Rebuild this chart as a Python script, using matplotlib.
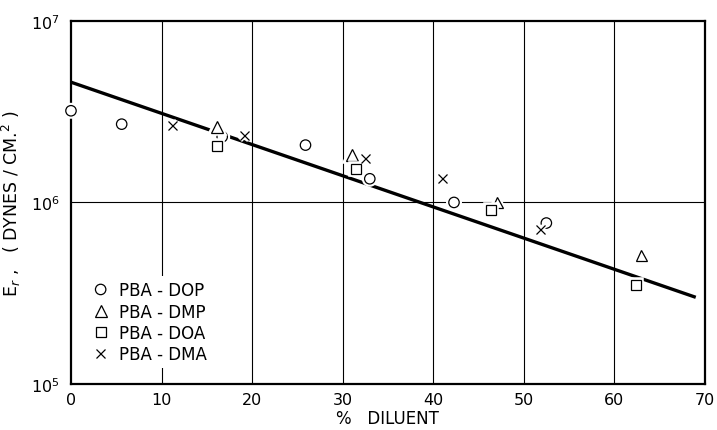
import matplotlib
matplotlib.use("Agg")
import matplotlib.pyplot as plt
import matplotlib.patheffects as pe
from matplotlib.ticker import FixedLocator, NullLocator

# % diluent and relaxation modulus for each plasticizer series
dop_x = [0.0, 5.6, 16.7, 25.9, 33.0, 42.3, 52.5]
dop_y = [3.2e6, 2.7e6, 2.3e6, 2.07e6, 1.35e6, 1.0e6, 7.7e5]
dmp_x = [16.1, 31.0, 47.1, 63.0]
dmp_y = [2.6e6, 1.83e6, 1.0e6, 5.1e5]
doa_x = [16.1, 31.5, 46.4, 62.4]
doa_y = [2.05e6, 1.53e6, 9.1e5, 3.5e5]
dma_x = [11.2, 19.2, 32.5, 41.0, 51.9]
dma_y = [2.67e6, 2.35e6, 1.74e6, 1.35e6, 7.05e5]

# fitted line end points
fit_x = [0.0, 69.0]
fit_y = [4.6e6, 3.0e5]

x_ticks = [0, 10, 20, 30, 40, 50, 60, 70]
y_ticks = [1e5, 1e6, 1e7]

plt.rcParams["font.family"] = ["DejaVu Sans"]

fig = plt.figure(figsize=(7.17, 4.31), dpi=100)
ax = fig.add_axes([0.099, 0.107, 0.884, 0.842])
ax.set_yscale("log")
ax.set_xlim(0, 70)
ax.set_ylim(1e5, 1e7)

for xv in x_ticks[1:-1]:
    ax.axvline(xv, color="black", lw=0.8, zorder=1)
ax.axhline(1e6, color="black", lw=0.8, zorder=1)

ax.plot(fit_x, fit_y, color="black", lw=2.4, solid_capstyle="butt", zorder=2)

halo = [pe.withStroke(linewidth=4, foreground="white")]
series = [
    (dop_x, dop_y, "o", "PBA - DOP", 7.5),
    (dmp_x, dmp_y, "^", "PBA - DMP", 8.5),
    (doa_x, doa_y, "s", "PBA - DOA", 7),
    (dma_x, dma_y, "x", "PBA - DMA", 6.5),
]
for xs, ys, m, lab, ms in series:
    ax.plot(xs, ys, linestyle="none", marker=m, ms=ms, mfc="white",
            mec="black", mew=0.9, label=lab, zorder=3, path_effects=halo,
            clip_on=False)

leg = ax.legend(loc="lower left", bbox_to_anchor=(0.01, 0.02), frameon=True,
                fontsize=12, handletextpad=0.5, labelspacing=0.2,
                borderpad=0.3, handlelength=1.2)
leg.get_frame().set_facecolor("white")
leg.get_frame().set_edgecolor("none")
leg.get_frame().set_alpha(1)

ax.xaxis.set_major_locator(FixedLocator(x_ticks))
ax.yaxis.set_major_locator(FixedLocator(y_ticks))
ax.yaxis.set_minor_locator(NullLocator())
ax.tick_params(length=0, labelsize=11.5)
ax.tick_params(axis="x", pad=6)
ax.tick_params(axis="y", pad=8)
for s in ax.spines.values():
    s.set_linewidth(1.6)

ax.set_xlabel("%   DILUENT", fontsize=12, labelpad=1)
ax.set_ylabel(r"E$_r$ ,   ( DYNES / CM.$^2$ )", fontsize=12.5, labelpad=6)

fig.savefig("out.png", dpi=100, facecolor="white")
